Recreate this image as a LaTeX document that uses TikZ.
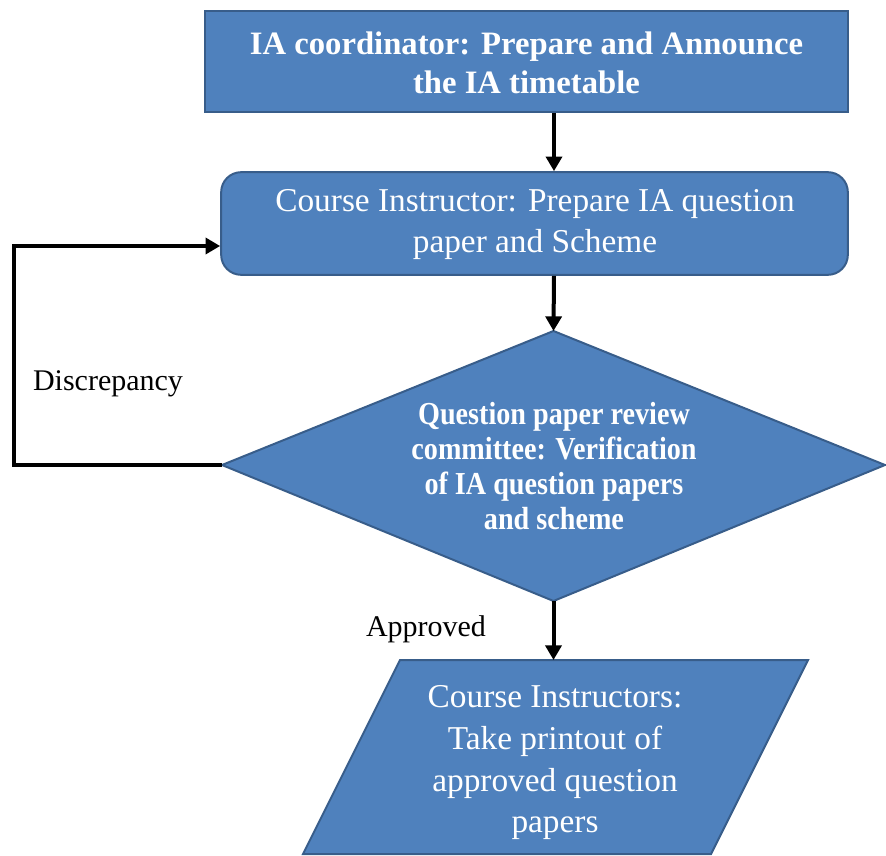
\documentclass[tikz,border=0pt]{standalone}
\usepackage{fontspec}
\setmainfont{Liberation Serif}
\newfontfamily\narrowserif[FakeStretch=0.88]{Liberation Serif}
\usetikzlibrary{arrows.meta}
\definecolor{boxfill}{HTML}{4F81BD}
\definecolor{boxline}{HTML}{385D8A}
\begin{document}
\begin{tikzpicture}[x=0.75pt,y=-0.75pt,
  shapebox/.style={fill=boxfill,draw=boxline,line width=1.5pt},
  flow/.style={line width=3pt,-{Triangle[length=11pt,width=12pt]}},
  whitetext/.style={text=white,align=center,inner sep=0pt},
  plaintext/.style={text=black,inner sep=0pt,font=\fontsize{22.5}{27}\selectfont}
]
\useasboundingbox (0,0) rectangle (886,856);

% main axis of the flow
\coordinate (axis) at (554,0);

% step 1: timetable
\node[shapebox, minimum width=482pt, minimum height=76pt] (top) at (526.5,61.5) {};
\node[whitetext, font=\bfseries\fontsize{24.5}{29.25}\selectfont] (toptext) at (526.5,63)
  {IA coordinator: Prepare and Announce\\the IA timetable};

% step 2: question paper preparation
\node[shapebox, rounded corners=15pt, minimum width=470pt, minimum height=77pt] (prep) at (534.5,223.5) {};
\node[whitetext, font=\fontsize{25}{30.75}\selectfont] (preptext) at (535,225)
  {Course Instructor: Prepare IA question\\paper and Scheme};

% step 3: review decision
\coordinate (dT) at (553.5,331);
\coordinate (dL) at (222,465);
\coordinate (dR) at (885,465);
\coordinate (dB) at (553.5,601);
\path[shapebox] (dT) -- (dR) -- (dB) -- (dL) -- cycle;
\node[whitetext, font=\narrowserif\bfseries\fontsize{24}{26.25}\selectfont] (review) at (554,466)
  {Question paper review\\committee: Verification\\of IA question papers\\and scheme};

% step 4: printing
\coordinate (pT) at (553.5,660);
\path[shapebox] (400,660) -- (808,660) -- (711,854) -- (303,854) -- cycle;
\node[whitetext, font=\fontsize{25}{31.25}\selectfont] (print) at (555,763)
  {Course Instructors:\\Take printout of\\approved question\\papers};

% connectors
\draw[flow] (top.south -| axis) -- (prep.north -| axis);
\draw[flow] (prep.south -| axis) -- (dT);
\draw[flow] (dB) -- (pT);
\coordinate (loopturn) at (14,246);
\draw[flow] (dL) -| (loopturn) -- (prep.west |- loopturn);

% branch labels
\node[plaintext] (disc) at (108,384) {Discrepancy};
\node[plaintext] (appr) at (426,629) {Approved};
\end{tikzpicture}
\end{document}
